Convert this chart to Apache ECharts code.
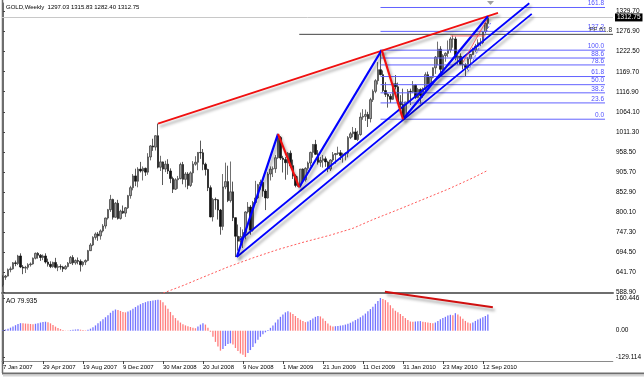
<!DOCTYPE html>
<html>
<head>
<meta charset="utf-8">
<script src="https://cdn.jsdelivr.net/npm/echarts@6/dist/echarts.min.js"></script>
<style>
html, body { margin: 0; padding: 0; background: #fff; }
#chart { width: 644px; height: 377px; }
</style>
</head>
<body>
<div id="chart"></div>
<script>
// weekly bars, index 0 = week of 7 Jan 2007
const weekLabels = ['7 Jan 2007', '29 Apr 2007', '19 Aug 2007', '9 Dec 2007', '30 Mar 2008', '20 Jul 2008',
    '9 Nov 2008', '1 Mar 2009', '21 Jun 2009', '11 Oct 2009', '31 Jan 2010', '23 May 2010', '12 Sep 2010'];
const labelStep = 16; // weeks between date labels

const opens = [608, 628, 631, 648, 650, 666, 664, 684, 655, 652, 654, 661, 663, 678, 691, 686, 680, 684, 668, 662,
    656, 667, 654, 656, 655, 650, 656, 665, 680, 666, 672, 670, 661, 668, 672, 698, 713, 733, 742, 737,
    750, 763, 784, 806, 833, 786, 823, 783, 802, 797, 811, 843, 864, 895, 881, 913, 908, 915, 905, 945,
    974, 971, 1001, 918, 932, 913, 926, 908, 888, 860, 885, 888, 925, 886, 900, 870, 903, 926, 931, 957,
    956, 926, 912, 864, 787, 833, 832, 805, 762, 866, 880, 830, 853, 785, 736, 723, 735, 746, 800, 813,
    752, 825, 837, 872, 878, 855, 837, 900, 913, 914, 943, 996, 942, 938, 930, 955, 922, 895, 870, 871,
    913, 885, 915, 929, 957, 978, 952, 931, 936, 940, 932, 913, 937, 951, 954, 956, 949, 953, 955, 996,
    1006, 1011, 991, 1004, 1050, 1052, 1057, 1046, 1096, 1118, 1146, 1175, 1162, 1120, 1110, 1105, 1097, 1138, 1130, 1090,
    1083, 1050, 1090, 1118, 1117, 1134, 1102, 1123, 1107, 1126, 1162, 1138, 1155, 1180, 1208, 1229, 1176, 1212, 1218, 1227,
    1256, 1256, 1207, 1210, 1189, 1188, 1181, 1204, 1215, 1227, 1237, 1246, 1246, 1275, 1297.03];
const highs = [633, 634, 651, 656, 668, 672, 687, 691, 660, 658, 665, 667, 680, 693, 694, 689, 688, 691, 677, 670,
    669, 679, 662, 662, 658, 660, 668, 684, 686, 675, 680, 675, 670, 675, 700, 718, 736, 746, 747, 754,
    768, 785, 808, 845, 835, 826, 832, 806, 817, 813, 845, 869, 900, 914, 918, 932, 920, 917, 955, 976,
    993, 1002, 1033, 948, 933, 935, 939, 915, 893, 889, 895, 930, 932, 905, 905, 907, 934, 947, 958, 988,
    966, 930, 914, 870, 837, 838, 834, 808, 900, 930, 922, 933, 880, 786, 767, 760, 754, 802, 826, 818,
    829, 882, 874, 885, 880, 860, 905, 920, 920, 950, 1006, 1000, 948, 945, 958, 962, 938, 899, 894, 913,
    915, 918, 933, 959, 979, 990, 963, 945, 950, 946, 935, 939, 958, 955, 972, 963, 956, 957, 1000, 1011,
    1024, 1021, 1014, 1062, 1071, 1070, 1064, 1101, 1123, 1150, 1195, 1227, 1173, 1142, 1113, 1111, 1139, 1161, 1141, 1108,
    1125, 1090, 1124, 1125, 1145, 1137, 1127, 1126, 1128, 1168, 1170, 1157, 1181, 1211, 1249, 1237, 1216, 1221, 1252, 1261,
    1265, 1262, 1215, 1218, 1204, 1192, 1208, 1216, 1233, 1243, 1255, 1258, 1275, 1300, 1315.83];
const lows = [603, 621, 630, 641, 648, 657, 660, 652, 636, 639, 648, 656, 661, 675, 677, 671, 673, 664, 656, 652,
    653, 651, 644, 648, 642, 648, 654, 663, 660, 661, 662, 643, 656, 660, 670, 697, 710, 727, 724, 727,
    746, 756, 780, 800, 780, 785, 780, 780, 795, 787, 808, 835, 857, 868, 865, 904, 883, 895, 898, 936,
    961, 962, 915, 908, 871, 905, 900, 876, 850, 858, 861, 886, 873, 865, 860, 866, 877, 922, 910, 940,
    910, 896, 855, 786, 775, 806, 780, 740, 752, 860, 826, 825, 776, 681, 698, 706, 705, 728, 796, 740,
    748, 822, 834, 859, 840, 805, 835, 883, 892, 903, 940, 937, 904, 885, 898, 917, 887, 865, 866, 866,
    880, 880, 909, 920, 943, 950, 925, 919, 917, 919, 905, 908, 932, 927, 950, 937, 930, 936, 944, 992,
    997, 990, 987, 1001, 1043, 1040, 1024, 1036, 1090, 1113, 1136, 1160, 1116, 1103, 1075, 1087, 1095, 1123, 1085, 1076,
    1045, 1048, 1084, 1082, 1114, 1098, 1100, 1085, 1101, 1114, 1133, 1131, 1152, 1164, 1187, 1160, 1167, 1196, 1208, 1220,
    1233, 1200, 1188, 1188, 1176, 1157, 1175, 1190, 1214, 1222, 1235, 1237, 1242, 1271, 1282.40];
const closes = [628, 631, 648, 650, 666, 664, 684, 655, 652, 654, 661, 663, 678, 691, 686, 680, 684, 668, 662, 656,
    667, 654, 656, 655, 650, 656, 665, 680, 666, 672, 670, 661, 668, 672, 698, 713, 733, 742, 737, 750,
    763, 784, 806, 833, 786, 823, 783, 802, 797, 811, 843, 864, 895, 881, 913, 908, 915, 905, 945, 974,
    971, 1001, 918, 932, 913, 926, 908, 888, 860, 885, 888, 925, 886, 900, 870, 903, 926, 931, 957, 956,
    926, 912, 864, 787, 833, 832, 805, 762, 866, 880, 830, 853, 785, 736, 723, 735, 746, 800, 813, 752,
    825, 837, 872, 878, 855, 837, 900, 913, 914, 943, 996, 942, 938, 930, 955, 922, 895, 870, 871, 913,
    885, 915, 929, 957, 978, 952, 931, 936, 940, 932, 913, 937, 951, 954, 956, 949, 953, 955, 996, 1006,
    1011, 991, 1004, 1050, 1052, 1057, 1046, 1096, 1118, 1146, 1175, 1162, 1120, 1110, 1105, 1097, 1138, 1130, 1090, 1083,
    1050, 1090, 1118, 1117, 1134, 1102, 1123, 1107, 1126, 1162, 1138, 1155, 1180, 1208, 1229, 1176, 1212, 1218, 1227, 1256,
    1256, 1207, 1210, 1189, 1188, 1181, 1204, 1215, 1227, 1237, 1246, 1246, 1275, 1297, 1312.75];

// Awesome Oscillator, one value per week
const aoValues = [3, 6, 10, 15, 21, 27, 33, 37, 36, 35, 34, 33, 32, 34, 37, 40, 43, 44, 42, 36,
    28, 20, 13, 8, 4, 1, -1, 3, 5, 6, 7, 5, 3, 2, 5, 10, 17, 26, 36, 46,
    56, 66, 76, 88, 98, 104, 102, 97, 92, 90, 94, 100, 108, 116, 124, 130, 136, 140, 144, 146,
    148, 150, 152, 150, 140, 124, 108, 92, 76, 62, 50, 40, 32, 26, 22, 18, 14, 12, 20, 30,
    36, 30, 14, -5, -30, -55, -78, -98, -90, -75, -65, -62, -68, -85, -100, -112, -118, -129.114, -110, -95,
    -80, -62, -45, -30, -18, -8, 4, 14, 26, 40, 55, 68, 80, 90, 95, 90, 82, 72, 62, 54,
    47, 42, 45, 52, 60, 68, 72, 70, 60, 48, 35, 25, 21, 22, 23, 25, 27, 30, 34, 39,
    45, 52, 58, 66, 75, 84, 95, 106, 118, 132, 146, 160.446, 156, 150, 140, 125, 110, 98, 90, 82,
    72, 62, 52, 45, 44, 45, 46, 47, 44, 42, 40, 38, 36, 40, 48, 56, 62, 68, 74, 78,
    76, 86, 80, 70, 58, 48, 40, 36, 40, 48, 55, 60, 66, 72, 79.935];

const priceTicks = [588.90, 641.70, 694.50, 747.30, 800.10, 852.90, 905.70, 958.50, 1011.30, 1064.10,
    1116.90, 1169.70, 1222.50, 1276.90, 1329.70];
const aoTicks = [160.446, 0, -129.114];

// red dotted moving average (week index, price)
const maIdx = [55, 64, 72, 80, 90, 100, 110, 120, 131, 140, 148, 158, 168, 178, 188, 194];
const maVal = [565, 586, 606, 628, 655, 679, 701, 720, 739, 757, 780, 806, 833, 860, 890, 910];

// drawn objects: [week index, price]
const redTrend = [[62, 1033], [198, 1325]];
const zigBlue = [[[93.5, 681], [110, 1006]], [[118.5, 865], [151.5, 1227]], [[160, 1044.5], [194, 1316]]];
const zigRed = [[[110, 1006], [118.5, 865]], [[151.5, 1227], [160, 1044.5]]];
const channelLines = [[[93.6, 682], [211.5, 1322]], [[94.8, 726], [210.5, 1350]]];
const thinRed = [[[179, 1264], [193, 1264]], [[184, 1195], [193.5, 1306]]];
const thinBlue = [[[186, 1170], [195, 1298]]];
const aoTrend = [[152.8, 191], [196, 115]];

// fibonacci retracement between Dec 2009 high and Feb 2010 low
const fibLevels = [0, 23.6, 38.2, 50, 61.8, 78.6, 88.6, 100, 127.2, 161.8];
const fibLabels = ['0.0', '23.6', '38.2', '50.0', '61.8', '78.6', '88.6', '100.0', '127.2', '161.8'];
const fibLow = 1044.5, fibHigh = 1226.5, fibFrom = 151, fibTo = 240.8;
const feLevel = 1268.2, feFrom = 118.5;

const FONT = 'Liberation Sans';
const shadow = { shadowColor: 'rgba(0,0,0,0.35)', shadowBlur: 3, shadowOffsetX: 2, shadowOffsetY: 3 };

const chart = echarts.init(document.getElementById('chart'));

function lineSeries(points, color, width, extra, grid) {
    return {
        type: 'line',
        xAxisIndex: grid || 0,
        yAxisIndex: grid || 0,
        data: points,
        showSymbol: false,
        silent: true,
        lineStyle: Object.assign({ color: color, width: width }, extra || {}),
        z: 5
    };
}

const series = [];
series.push({
    type: 'candlestick',
    xAxisIndex: 0,
    yAxisIndex: 0,
    data: opens.map((o, i) => [i, o, closes[i], lows[i], highs[i]]),
    encode: { x: 0, y: [1, 2, 3, 4] },
    barWidth: 1.6,
    itemStyle: {
        color: '#9a9a9a',
        color0: '#111',
        borderColor: '#333',
        borderColor0: '#111',
        borderWidth: 0.7
    },
    markLine: {
        silent: true,
        symbol: ['none', 'none'],
        lineStyle: { color: '#c8c8c8', width: 1, type: 'solid' },
        label: {
            position: 'end',
            distance: 2,
            formatter: closes[closes.length - 1].toFixed(2),
            backgroundColor: '#000',
            color: '#fff',
            padding: [1, 2, 0, 2],
            fontSize: 6.5,
            fontFamily: FONT
        },
        data: [{ yAxis: closes[closes.length - 1] }]
    }
});

series.push(lineSeries(maIdx.map((x, i) => [x, maVal[i]]), '#ff5a5a', 1, { type: [2, 2] }));

fibLevels.forEach(lv => {
    const p = fibLow + (fibHigh - fibLow) * lv / 100;
    series.push(lineSeries([[fibFrom, p], [fibTo, p]], '#6262ff', 1));
});
series.push(lineSeries([[feFrom, feLevel], [244, feLevel]], '#444', 1));

channelLines.forEach(l => series.push(lineSeries(l, '#0000ff', 1.8, shadow)));
series.push(lineSeries(redTrend, '#f01010', 1.8, shadow));
zigBlue.forEach(l => series.push(lineSeries(l, '#0000ff', 2.2, shadow)));
zigRed.forEach(l => series.push(lineSeries(l, '#f01010', 2.2, shadow)));
thinRed.forEach(l => series.push(lineSeries(l, '#ff4040', 0.8)));
thinBlue.forEach(l => series.push(lineSeries(l, '#4040ff', 0.8, { type: [2, 2] })));

series.push({
    type: 'bar',
    xAxisIndex: 1,
    yAxisIndex: 1,
    barWidth: 1.3,
    silent: true,
    data: aoValues.map((v, i) => ({
        value: [i, v],
        itemStyle: { color: i > 0 && v < aoValues[i - 1] ? '#ff7b7b' : '#7272ff' }
    }))
});
const aoLine = lineSeries(aoTrend, '#d01010', 2.2, shadow, 1);
aoLine.clip = false;
series.push(aoLine);

const axisText = { fontSize: 6.5, fontFamily: FONT, color: '#000' };

chart.setOption({
    animation: false,
    backgroundColor: '#fff',
    grid: [
        { left: 2, top: 3, width: 611, height: 290 },
        { left: 2, top: 295, width: 611, height: 66 }
    ],
    xAxis: [
        {
            type: 'value', gridIndex: 0, min: -0.4, max: 244,
            axisLine: { show: true, onZero: false, lineStyle: { color: '#6e6e6e', width: 2 } },
            axisTick: { show: false }, axisLabel: { show: false }, splitLine: { show: false }
        },
        {
            type: 'value', gridIndex: 1, min: -0.4, max: 244,
            axisLine: { show: true, onZero: false, lineStyle: { color: '#8a8a8a', width: 1 } },
            axisTick: { show: true, customValues: weekLabels.map((d, i) => i * labelStep), length: 3, lineStyle: { color: '#444' } },
            axisLabel: Object.assign({
                customValues: weekLabels.map((d, i) => i * labelStep),
                formatter: v => weekLabels[Math.round(v / labelStep)],
                align: 'left',
                margin: 3
            }, axisText, { fontSize: 6 }),
            splitLine: { show: false }
        }
    ],
    yAxis: [
        {
            type: 'value', gridIndex: 0, position: 'right', min: 586.4, max: 1350.8,
            axisLine: { show: true, lineStyle: { color: '#6e6e6e', width: 1 } },
            axisTick: { show: true, customValues: priceTicks, length: 2, lineStyle: { color: '#444' } },
            axisLabel: Object.assign({ customValues: priceTicks, formatter: v => v.toFixed(2), margin: 3 }, axisText),
            splitLine: { show: false }
        },
        {
            type: 'value', gridIndex: 1, position: 'right', min: -148.75, max: 175.17,
            axisLine: { show: true, lineStyle: { color: '#6e6e6e', width: 1 } },
            axisTick: { show: true, customValues: aoTicks, length: 2, lineStyle: { color: '#444' } },
            axisLabel: Object.assign({ customValues: aoTicks, formatter: v => (v === 0 ? '0.00' : String(v)), margin: 3 }, axisText),
            splitLine: { show: false }
        }
    ],
    series: series
});

// texts and frame placed from the chart's own scales
const toPx = (x, y) => chart.convertToPixel({ gridIndex: 0 }, [x, y]);
const graphics = [];
fibLevels.forEach((lv, i) => {
    const p = toPx(fibTo, fibLow + (fibHigh - fibLow) * lv / 100);
    graphics.push({
        type: 'text', x: p[0] - 1, y: p[1] - 0.5, silent: true,
        style: { text: fibLabels[i], fill: '#5050ff', font: '6.5px ' + FONT, textAlign: 'right', textVerticalAlign: 'bottom' }
    });
});
const feP = toPx(244, feLevel);
graphics.push({
    type: 'text', x: feP[0] - 1, y: feP[1] - 0.5, silent: true,
    style: { text: 'FE 61.8', fill: '#222', font: '6.5px ' + FONT, textAlign: 'right', textVerticalAlign: 'bottom' }
});
const shiftP = toPx(opens.length, 1350);
graphics.push({
    type: 'polygon', silent: true,
    shape: { points: [[shiftP[0] - 3.5, 1], [shiftP[0] + 3.5, 1], [shiftP[0], 5]] },
    style: { fill: '#a0a0a0' }
});
graphics.push({
    type: 'text', x: 6, y: 7, silent: true,
    style: { text: 'GOLD,Weekly  1297.03 1315.83 1282.40 1312.75', fill: '#000', font: '6px ' + FONT, textVerticalAlign: 'middle' }
});
graphics.push({
    type: 'text', x: 6, y: 301, silent: true,
    style: { text: 'AO 79.935', fill: '#000', font: '6.5px ' + FONT, textVerticalAlign: 'middle' }
});
graphics.push({ type: 'line', silent: true, shape: { x1: 2.5, y1: 0, x2: 2.5, y2: 373 }, style: { stroke: '#6e6e6e', lineWidth: 1.5 } });
graphics.push({ type: 'line', silent: true, shape: { x1: 2, y1: 373.5, x2: 644, y2: 373.5 }, style: { stroke: '#6e6e6e', lineWidth: 2 } });
graphics.push({ type: 'line', silent: true, shape: { x1: 3, y1: 375.5, x2: 644, y2: 375.5 }, style: { stroke: '#d4d4d4', lineWidth: 2 } });
chart.setOption({ graphic: graphics });
</script>
</body>
</html>
